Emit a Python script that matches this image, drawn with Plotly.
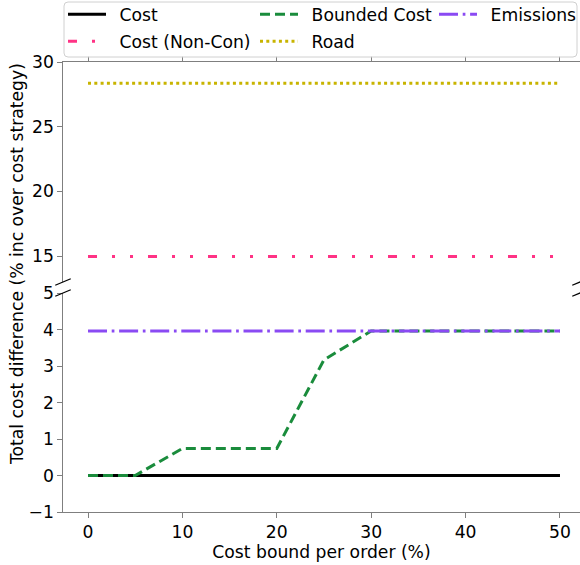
import plotly.graph_objects as go

# ---------------- data ----------------
cost_bound = [0, 5, 10, 15, 20, 25, 30, 35, 40, 45, 50]
cost = [0, 0, 0, 0, 0, 0, 0, 0, 0, 0, 0]
cost_noncon = [14.98, 14.98, 14.98, 14.98, 14.98, 14.98, 14.98, 14.98, 14.98, 14.98, 14.98]
bounded_cost = [0, 0, 0.74, 0.74, 0.74, 3.17, 3.96, 3.96, 3.96, 3.96, 3.96]
road = [28.36, 28.36, 28.36, 28.36, 28.36, 28.36, 28.36, 28.36, 28.36, 28.36, 28.36]
emissions = [3.96, 3.96, 3.96, 3.96, 3.96, 3.96, 3.96, 3.96, 3.96, 3.96, 3.96]
x_ticks = [0, 10, 20, 30, 40, 50]
lower_ticks = [-1, 0, 1, 2, 3, 4, 5]
upper_ticks = [15, 20, 25, 30]

# ---------------- geometry ----------------
W, H = 580, 565
ML, MR, MT, MB = 63, 0, 62, 53
PW, PH = W - ML - MR, H - MT - MB
def px_x(p):
    return (p - ML) / PW
def px_y(p):
    return (H - MB - p) / PH

FONT = "DejaVu Sans"
FS = 17.2
AX = "#7f7f7f"
SP = "\u2002"

series = [
    ("Cost", cost, dict(color="black", width=3, dash="solid"), "legend"),
    ("Cost (Non-Con)", cost_noncon, dict(color="#ff3385", width=3, dash="9px,15px,3px,15px,3px,15px"), "legend2"),
    ("Bounded Cost", bounded_cost, dict(color="#1a8c3c", width=3, dash="10px,5px"), "legend3"),
    ("Road", road, dict(color="#c8b400", width=3, dash="3px,3.3px"), "legend4"),
    ("Emissions", emissions, dict(color="#8a4af3", width=3, dash="19px,4.7px,2.7px,4.7px"), "legend5"),
]

fig = go.Figure()
for name, vals, line, lg in series:
    fig.add_trace(go.Scatter(x=cost_bound, y=vals, mode="lines", name=SP + name, line=line,
                             xaxis="x", yaxis="y", legend=lg, showlegend=True))
    fig.add_trace(go.Scatter(x=cost_bound, y=vals, mode="lines", name=SP + name, line=line,
                             xaxis="x2", yaxis="y2", legend=lg, showlegend=False))

axis_common = dict(showgrid=False, zeroline=False, showline=True, linecolor=AX, linewidth=1.25,
                   ticks="outside", ticklen=4.5, tickwidth=1.25, tickcolor=AX,
                   tickfont=dict(family=FONT, size=FS, color="black"))

low_top = px_y(293)
up_bot = px_y(282)

leg_common = dict(orientation="v", xanchor="left", yanchor="middle", bgcolor="rgba(0,0,0,0)",
                  borderwidth=0, itemwidth=38, font=dict(family=FONT, size=FS, color="black"),
                  xref="paper", yref="paper")
leg_pos = {"legend": (63, 14.5), "legend2": (63, 41.5), "legend3": (255, 14.5),
           "legend4": (255, 41.5), "legend5": (434, 14.5)}
legends = {k: dict(leg_common, x=px_x(v[0]), y=px_y(v[1])) for k, v in leg_pos.items()}

# legend frame
x0, x1, y0, y1 = px_x(64), px_x(577), px_y(57), px_y(2)
rx, ry = 4 / PW, 4 / PH
frame = (f"M {x0+rx},{y0} L {x1-rx},{y0} Q {x1},{y0} {x1},{y0+ry} L {x1},{y1-ry} "
         f"Q {x1},{y1} {x1-rx},{y1} L {x0+rx},{y1} Q {x0},{y1} {x0},{y1-ry} "
         f"L {x0},{y0+ry} Q {x0},{y0} {x0+rx},{y0} Z")

d = 0.015
shapes = [
    dict(type="path", path=frame, xref="paper", yref="paper",
         line=dict(color="#d0d0d0", width=1), fillcolor="rgba(255,255,255,0.8)"),
    dict(type="line", xref="x2 domain", yref="y2 domain", x0=-d, x1=d, y0=-d, y1=d,
         line=dict(color="black", width=1.2)),
    dict(type="line", xref="x2 domain", yref="y2 domain", x0=1 - d, x1=1 + d, y0=-d, y1=d,
         line=dict(color="black", width=1.2)),
    dict(type="line", xref="x domain", yref="y domain", x0=-d, x1=d, y0=1 - d, y1=1 + d,
         line=dict(color="black", width=1.2)),
    dict(type="line", xref="x domain", yref="y domain", x0=1 - d, x1=1 + d, y0=1 - d, y1=1 + d,
         line=dict(color="black", width=1.2)),
]

fig.update_layout(
    width=W, height=H, margin=dict(l=ML, r=MR, t=MT, b=MB, autoexpand=False),
    paper_bgcolor="white", plot_bgcolor="white",
    font=dict(family=FONT, size=FS, color="black"),
    xaxis=dict(axis_common, domain=[0, 1], range=[-2.65, 52.12], anchor="y", side="bottom",
               tickvals=x_ticks,
               title=dict(text="Cost bound per order (%)", standoff=2,
                          font=dict(family=FONT, size=FS, color="black"))),
    xaxis2=dict(axis_common, domain=[0, 1], matches="x", anchor="y2", side="top",
                tickvals=x_ticks, showticklabels=False),
    yaxis=dict(axis_common, domain=[0, low_top], range=[-1, 5], anchor="x", tickvals=lower_ticks),
    yaxis2=dict(axis_common, domain=[up_bot, 1], range=[13, 30], anchor="x2", tickvals=upper_ticks),
    shapes=shapes,
    annotations=[dict(text="Total cost difference (% inc over cost strategy)", textangle=-90,
                      xref="paper", yref="paper", x=px_x(17), y=px_y(264),
                      xanchor="center", yanchor="middle", showarrow=False,
                      font=dict(family=FONT, size=FS, color="black"))],
    **legends,
)

fig.write_html("out.html", config={"displayModeBar": False},
               post_script="document.body.style.margin='0';document.body.style.overflow='hidden';")
